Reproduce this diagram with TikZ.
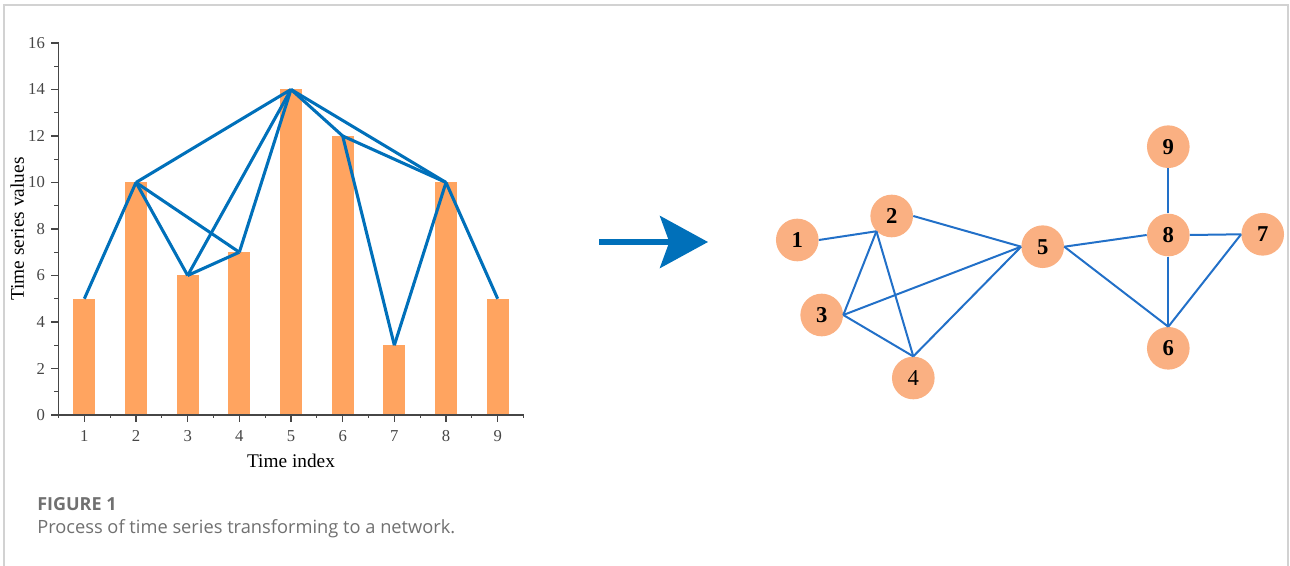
\documentclass[tikz,border=0pt]{standalone}
\usepackage{fontspec}
\setmainfont{Liberation Serif}
\newfontfamily\capfont{Open Sans}
\usetikzlibrary{arrows.meta}
\definecolor{tsbar}{RGB}{255,164,96}
\definecolor{tsline}{RGB}{0,112,186}
\definecolor{tsaxis}{RGB}{70,70,70}
\definecolor{nwnode}{RGB}{250,176,130}
\definecolor{nwedge}{RGB}{34,112,200}
\definecolor{frameln}{RGB}{210,210,210}
\definecolor{capgray}{RGB}{112,112,112}
\tikzset{
  bar/.style={fill=tsbar},
  vis/.style={draw=tsline, line width=2.3pt, line join=round},
  axisln/.style={draw=tsaxis, line width=0.9pt},
  ticklab/.style={font=\fontsize{12.5}{14}\selectfont, text=tsaxis, inner sep=0pt},
  axlab/.style={font=\fontsize{14.5}{17}\selectfont, inner sep=0pt},
  vert/.style={circle, fill=nwnode, minimum size=32pt, inner sep=0pt,
    font=\fontsize{17}{19}\selectfont\bfseries},
  link/.style={draw=nwedge, line width=1.5pt},
  bigarrow/.style={draw=tsline, line width=4pt,
    -{Stealth[length=36pt, width=39pt, inset=7pt]}},
  captitle/.style={font=\capfont\fontsize{13.5}{16}\selectfont\bfseries, text=capgray, inner sep=0pt},
  captext/.style={font=\capfont\fontsize{13.7}{16}\selectfont, text=capgray, inner sep=0pt}
}
\begin{document}
\begin{tikzpicture}[x=0.75pt, y=-0.75pt]
  \useasboundingbox (0,0) rectangle (1290,566);
  \draw[frameln, line width=1.1pt] (4,570) -- (4,5) -- (1288,5) -- (1288,570);

  % time series as bars, visibility lines on top
  \begin{scope}[shift={(32.67,415)}, x=38.75pt, y=17.44pt]
    \foreach \i/\v in {1/5,2/10,3/6,4/7,5/14,6/12,7/3,8/10,9/5} {
      \fill[bar] (\i-0.21,0) rectangle (\i+0.21,\v);
      \coordinate (p\i) at (\i,\v);
    }
    \draw[axisln] (0.5,16) -- (0.5,0) -- (9.5,0);
    \foreach \v in {0,2,...,16} {
      \draw[axisln] (0.5,\v) -- ++(-5.5pt,0);
      \node[ticklab, anchor=east] (yl\v) at ([xshift=-10pt]0.5,\v) {\v};
    }
    \foreach \v in {1,3,...,15}
      \draw[axisln] (0.5,\v) -- ++(-3.5pt,0);
    \foreach \i in {1,...,9} {
      \draw[axisln] (\i,0) -- ++(0,-5pt);
      \node[ticklab, anchor=base] (xl\i) at ([yshift=-20pt]\i,0) {\i};
    }
    \foreach \i in {0.5,1.5,...,9.5}
      \draw[axisln] (\i,0) -- ++(0,-2.5pt);
    \node[axlab, anchor=base] (xlab) at ([yshift=-39.75pt]5,0) {Time index};
    \node[axlab, anchor=base, rotate=90] (ylab) at ([xshift=-25.9pt]0.5,8) {Time series values};
    \foreach \a/\b in {1/2,2/3,2/4,2/5,3/4,3/5,4/5,5/6,5/8,6/7,6/8,7/8,8/9}
      \draw[vis] (p\a) -- (p\b);
  \end{scope}

  % transform arrow
  \coordinate (arrS) at (599,242);
  \coordinate (arrE) at (708,242);
  \draw[bigarrow] (arrS) -- (arrE);

  % network
  \node[vert] (n1) at (797.3,240) {1};
  \node[vert] (n2) at (891.7,216) {2};
  \node[vert] (n3) at (821.7,315) {3};
  \node[vert, font=\fontsize{17}{19}\selectfont] (n4) at (913.3,378) {4};
  \node[vert] (n5) at (1042.7,246.7) {5};
  \node[vert] (n6) at (1168.3,348.3) {6};
  \node[vert] (n7) at (1262.7,234.3) {7};
  \node[vert] (n8) at (1168.3,235) {8};
  \node[vert] (n9) at (1168.3,146.7) {9};
  \draw[link] (n1.east) -- (n2.225);
  \draw[link] (n2.225) -- (n3.east);
  \draw[link] (n2.225) -- (n4.north);
  \draw[link] (n2.east) -- (n5.west);
  \draw[link] (n3.east) -- (n5.west);
  \draw[link] (n3.east) -- (n4.north);
  \draw[link] (n4.north) -- (n5.west);
  \draw[link] (n5.east) -- (n8.west);
  \draw[link] (n5.east) -- (n6.north);
  \draw[link] (n8.north) -- (n9.south);
  \draw[link] (n8.east) -- (n7.west);
  \draw[link] (n8.south) -- (n6.north);
  \draw[link] (n7.west) -- (n6.north);

  % caption
  \node[captitle, anchor=base west] (figno) at (37,511) {FIGURE 1};
  \node[captext, anchor=base west] (figcap) at (37,534) {Process of time series transforming to a network.};
\end{tikzpicture}
\end{document}
